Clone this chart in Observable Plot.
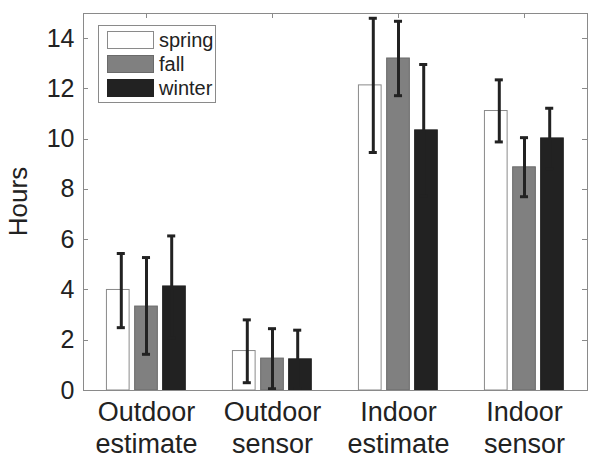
<!DOCTYPE html>
<html><head><meta charset="utf-8">
<script src="https://cdn.jsdelivr.net/npm/d3@7"></script>
<script src="https://cdn.jsdelivr.net/npm/@observablehq/plot@0.6"></script>
<style>
body{margin:0;background:#fff;font-family:"Liberation Sans",Arial,sans-serif;}
#wrap{position:relative;width:600px;height:465px;}
#legend{position:absolute;left:98px;top:25px;width:118px;height:78px;border:1px solid #8a8a8a;background:#fff;box-sizing:border-box;}
.item{position:absolute;left:8px;height:18px;display:flex;align-items:center;}
.sw{width:47px;height:18px;box-sizing:border-box;}
.lab{margin-left:5px;font-size:20px;color:#222;line-height:18px;}
</style></head><body><div id="wrap"><div id="legend"></div></div>
<script>
const categories = ["Outdoor\nestimate", "Outdoor\nsensor", "Indoor\nestimate", "Indoor\nsensor"];
const seasons = ["spring", "fall", "winter"];
const springMean = [4.0, 1.57, 12.14, 11.12];
const fallMean   = [3.34, 1.27, 13.21, 8.88];
const winterMean = [4.14, 1.24, 10.35, 10.03];
const springLo = [2.5, 0.31, 9.47, 9.89];
const springHi = [5.45, 2.81, 14.81, 12.36];
const fallLo   = [1.44, 0.07, 11.73, 7.71];
const fallHi   = [5.29, 2.46, 14.69, 10.06];
const winterLo = [2.1, 0.08, 7.73, 8.83];
const winterHi = [6.15, 2.4, 12.97, 11.23];
const yTicks = [0, 2, 4, 6, 8, 10, 12, 14];

const means = {spring: springMean, fall: fallMean, winter: winterMean};
const lows = {spring: springLo, fall: fallLo, winter: winterLo};
const highs = {spring: springHi, fall: fallHi, winter: winterHi};
const fills = {spring: "#ffffff", fall: "#808080", winter: "#222222"};
const strokes = {spring: "#8a8a8a", fall: "#6a6a6a", winter: "#222222"};
const barOff = {spring: -0.224, fall: 0, winter: 0.222};
const errOff = {spring: -0.2, fall: 0, winter: 0.2};
const halfW = 0.09;
const capW = 0.032;

const rows = [];
categories.forEach((c, i) => seasons.forEach(s => rows.push({
  cat: c, i, season: s, value: means[s][i], lo: lows[s][i], hi: highs[s][i]
})));

const barMarks = seasons.map(s => Plot.rectY(rows.filter(d => d.season === s), {
  x1: d => d.i + barOff[s] - halfW,
  x2: d => d.i + barOff[s] + halfW,
  y1: 0, y2: "value",
  fill: fills[s], stroke: strokes[s], strokeWidth: 1
}));

const ex = d => d.i + errOff[d.season];

const plot = Plot.plot({
  width: 600, height: 465,
  marginLeft: 83, marginRight: 13, marginTop: 13, marginBottom: 75,
  style: {fontSize: "25px", fontFamily: "'Liberation Sans', Arial, sans-serif", color: "#222", background: "white", overflow: "visible"},
  x: {type: "linear", domain: [-0.5, 3.5], axis: null},
  y: {domain: [0, 15], ticks: yTicks, tickSize: 0, tickPadding: 9, label: null},
  marks: [
    ...barMarks,
    Plot.ruleX(rows, {x: ex, y1: "lo", y2: "hi", stroke: "#222", strokeWidth: 3}),
    Plot.ruleY(rows, {y: "hi", x1: d => ex(d) - capW, x2: d => ex(d) + capW, stroke: "#222", strokeWidth: 3}),
    Plot.ruleY(rows, {y: "lo", x1: d => ex(d) - capW, x2: d => ex(d) + capW, stroke: "#222", strokeWidth: 3}),
    Plot.frame({stroke: "#8a8a8a"}),
    Plot.text(categories, {x: (d, i) => i, y: 0, text: d => d, lineAnchor: "top", dy: 7, fontSize: 27, lineHeight: 1.2, fill: "#222"})
  ]
});

document.getElementById("wrap").prepend(plot);

// inward ticks and y label
const ys = plot.scale("y"), xs = plot.scale("x");
const Y = d3.scaleLinear(ys.domain, ys.range);
const X = d3.scaleLinear(xs.domain, xs.range);
const svg = d3.select(plot);
const g = svg.append("g").attr("stroke", "#8a8a8a").attr("stroke-width", 1);
const [xl, xr] = xs.range, [yb, yt] = ys.range;
yTicks.forEach(t => {
  const y = Math.round(Y(t)) + 0.5;
  g.append("line").attr("x1", xl).attr("x2", xl + 5).attr("y1", y).attr("y2", y);
  g.append("line").attr("x1", xr).attr("x2", xr - 5).attr("y1", y).attr("y2", y);
});
categories.forEach((c, i) => {
  const x = Math.round(X(i)) + 0.5;
  g.append("line").attr("x1", x).attr("x2", x).attr("y1", yt).attr("y2", yt + 5);
});
svg.append("text")
  .attr("transform", `translate(18,${(yb + yt) / 2}) rotate(-90)`)
  .attr("text-anchor", "middle").attr("dy", "0.35em")
  .attr("font-size", 26).attr("fill", "#222").text("Hours");

// legend
const leg = document.getElementById("legend");
seasons.forEach((s, k) => {
  const it = document.createElement("div");
  it.className = "item";
  it.style.top = (5 + k * 24) + "px";
  it.innerHTML = `<div class="sw" style="background:${fills[s]};border:1px solid ${strokes[s]}"></div><span class="lab">${s}</span>`;
  leg.appendChild(it);
});
</script></body></html>
